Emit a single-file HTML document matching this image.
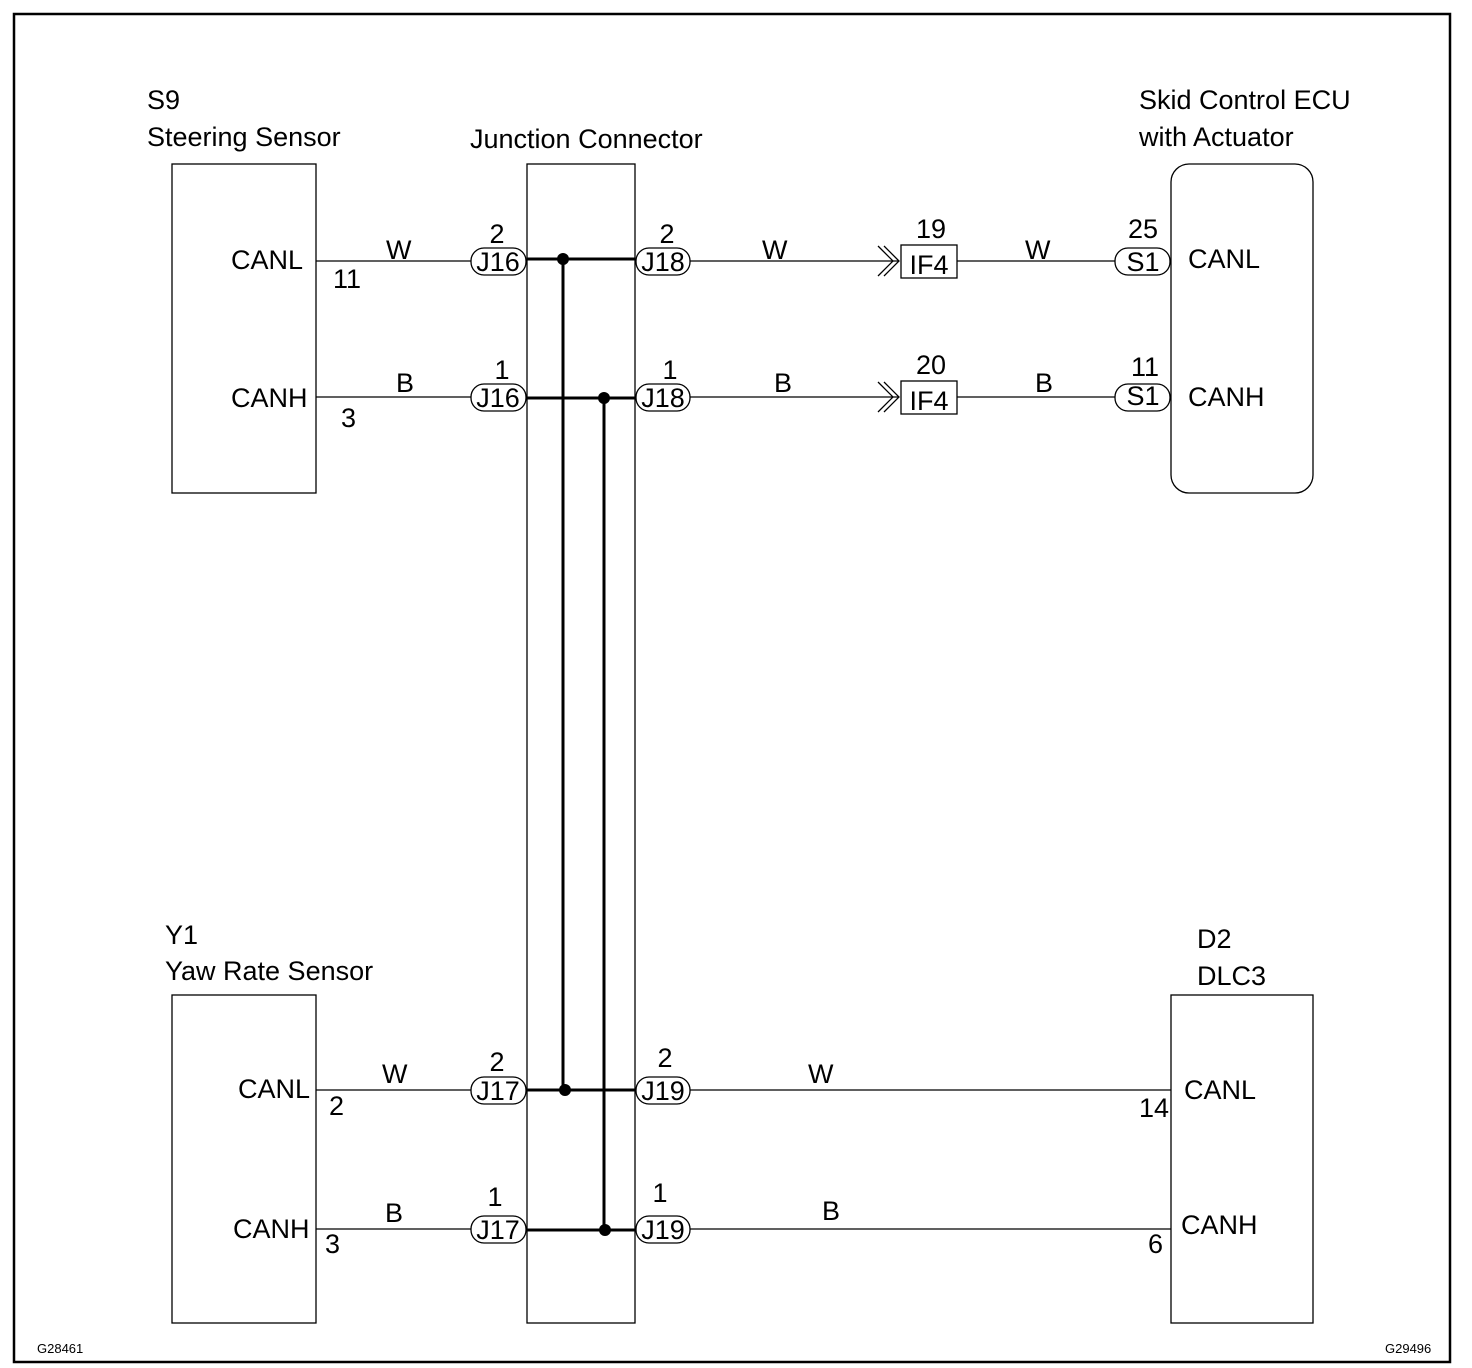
<!DOCTYPE html>
<html><head><style>body{margin:0;background:#fff}svg{display:block}text{font-family:"Liberation Sans",Arial,sans-serif;fill:#000}</style></head>
<body>
<svg width="1472" height="1368" viewBox="0 0 1472 1368" xmlns="http://www.w3.org/2000/svg">
<rect x="14" y="14" width="1436" height="1348" fill="none" stroke="#000" stroke-width="2.5"/>
<g fill="none" stroke="#000" stroke-width="1.3">
<rect x="172" y="164" width="144" height="329"/>
<rect x="527" y="164" width="108" height="1159"/>
<rect x="1171" y="164" width="142" height="329" rx="18"/>
<rect x="172" y="995" width="144" height="328"/>
<rect x="1171" y="995" width="142" height="328"/>
<line x1="316" y1="261" x2="471" y2="261"/>
<line x1="316" y1="397" x2="471" y2="397"/>
<line x1="690" y1="261" x2="898" y2="261"/>
<line x1="690" y1="397" x2="898" y2="397"/>
<line x1="957" y1="261" x2="1115" y2="261"/>
<line x1="957" y1="397" x2="1115" y2="397"/>
<line x1="316" y1="1090" x2="471" y2="1090"/>
<line x1="316" y1="1229" x2="471" y2="1229"/>
<line x1="690" y1="1090" x2="1171" y2="1090"/>
<line x1="690" y1="1229" x2="1171" y2="1229"/>
<rect x="471" y="248" width="55" height="27" rx="13"/>
<rect x="471" y="384" width="55" height="27" rx="13"/>
<rect x="636" y="248" width="54" height="27" rx="13"/>
<rect x="636" y="384" width="54" height="27" rx="13"/>
<rect x="1115" y="248" width="55" height="27" rx="13"/>
<rect x="1115" y="384" width="55" height="27" rx="13"/>
<rect x="471" y="1077" width="55" height="27" rx="13"/>
<rect x="471" y="1216" width="55" height="27" rx="13"/>
<rect x="636" y="1077" width="54" height="27" rx="13"/>
<rect x="636" y="1216" width="54" height="27" rx="13"/>
<rect x="901" y="245" width="56" height="33"/>
<rect x="901" y="381" width="56" height="33"/>
<polyline points="878,246 893,261 878,276"/>
<polyline points="884,246 899,261 884,276"/>
<polyline points="878,382 893,397 878,412"/>
<polyline points="884,382 899,397 884,412"/>
</g>
<g stroke="#000" stroke-width="3" fill="none">
<line x1="527" y1="259" x2="635" y2="259"/>
<line x1="527" y1="398" x2="635" y2="398"/>
<line x1="527" y1="1090" x2="635" y2="1090"/>
<line x1="527" y1="1230" x2="635" y2="1230"/>
<line x1="563" y1="258" x2="563" y2="1090"/>
<line x1="604" y1="397" x2="604" y2="1230"/>
</g>
<g fill="#000">
<circle cx="563" cy="259" r="6"/><circle cx="604" cy="398" r="6"/>
<circle cx="565" cy="1090" r="6"/><circle cx="605" cy="1230" r="6"/>
</g>
<g font-size="27">
<text x="147" y="109">S9</text>
<text x="147" y="146">Steering Sensor</text>
<text x="470" y="148">Junction Connector</text>
<text x="1139" y="109">Skid Control ECU</text>
<text x="1139" y="146">with Actuator</text>
<text x="165" y="944">Y1</text>
<text x="165" y="980">Yaw Rate Sensor</text>
<text x="1197" y="948">D2</text>
<text x="1197" y="985">DLC3</text>
<text x="231" y="269">CANL</text>
<text x="231" y="407">CANH</text>
<text x="1188" y="268">CANL</text>
<text x="1188" y="406">CANH</text>
<text x="238" y="1098">CANL</text>
<text x="233" y="1238">CANH</text>
<text x="1184" y="1099">CANL</text>
<text x="1181" y="1234">CANH</text>
<text x="333" y="288">11</text>
<text x="341" y="427">3</text>
<text x="329" y="1115">2</text>
<text x="325" y="1253">3</text>
<text x="1139" y="1117">14</text>
<text x="1148" y="1253">6</text>
<text x="386" y="259">W</text>
<text x="396" y="392">B</text>
<text x="762" y="259">W</text>
<text x="774" y="392">B</text>
<text x="1025" y="259">W</text>
<text x="1035" y="392">B</text>
<text x="382" y="1083">W</text>
<text x="385" y="1222">B</text>
<text x="808" y="1083">W</text>
<text x="822" y="1220">B</text>
<g text-anchor="middle">
<text x="497" y="243">2</text><text x="498" y="271">J16</text>
<text x="502" y="379">1</text><text x="498" y="407">J16</text>
<text x="667" y="243">2</text><text x="663" y="271">J18</text>
<text x="670" y="379">1</text><text x="663" y="407">J18</text>
<text x="931" y="238">19</text><text x="929" y="274">IF4</text>
<text x="931" y="374">20</text><text x="929" y="410">IF4</text>
<text x="1143" y="238">25</text><text x="1143" y="271">S1</text>
<text x="1145" y="376">11</text><text x="1143" y="405">S1</text>
<text x="497" y="1071">2</text><text x="498" y="1100">J17</text>
<text x="495" y="1206">1</text><text x="498" y="1239">J17</text>
<text x="665" y="1067">2</text><text x="663" y="1100">J19</text>
<text x="660" y="1202">1</text><text x="663" y="1239">J19</text>
</g>
</g>
<text x="37" y="1353" font-size="13">G28461</text>
<text x="1385" y="1353" font-size="13">G29496</text>
</svg>
</body></html>
